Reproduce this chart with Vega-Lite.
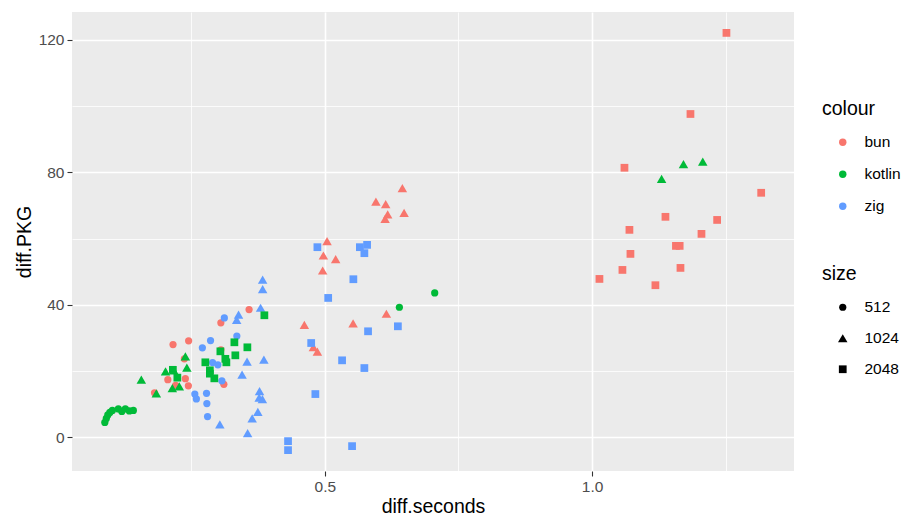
{
  "$schema": "https://vega.github.io/schema/vega-lite/v6.json",
  "width": 722,
  "height": 459,
  "autosize": {"type": "none"},
  "padding": {"left": 72, "top": 12, "right": 110, "bottom": 45},
  "background": "white",
  "data": {
    "values": [
      {"colour": "bun", "size": "512", "seconds": 0.2159, "PKG": 27.98},
      {"colour": "bun", "size": "512", "seconds": 0.2451, "PKG": 29.13},
      {"colour": "bun", "size": "512", "seconds": 0.3054, "PKG": 34.57},
      {"colour": "bun", "size": "512", "seconds": 0.3582, "PKG": 38.57},
      {"colour": "bun", "size": "512", "seconds": 0.2062, "PKG": 17.39},
      {"colour": "bun", "size": "512", "seconds": 0.2390, "PKG": 17.70},
      {"colour": "bun", "size": "512", "seconds": 0.2446, "PKG": 15.52},
      {"colour": "bun", "size": "512", "seconds": 0.1813, "PKG": 13.40},
      {"colour": "bun", "size": "512", "seconds": 0.3110, "PKG": 15.97},
      {"colour": "bun", "size": "512", "seconds": 0.3054, "PKG": 26.41},
      {"colour": "bun", "size": "512", "seconds": 0.2371, "PKG": 23.68},
      {"colour": "bun", "size": "512", "seconds": 0.2208, "PKG": 15.67},
      {"colour": "kotlin", "size": "512", "seconds": 0.0883, "PKG": 4.48},
      {"colour": "kotlin", "size": "512", "seconds": 0.0911, "PKG": 5.69},
      {"colour": "kotlin", "size": "512", "seconds": 0.0939, "PKG": 6.75},
      {"colour": "kotlin", "size": "512", "seconds": 0.0977, "PKG": 7.50},
      {"colour": "kotlin", "size": "512", "seconds": 0.1024, "PKG": 8.11},
      {"colour": "kotlin", "size": "512", "seconds": 0.1136, "PKG": 8.56},
      {"colour": "kotlin", "size": "512", "seconds": 0.1201, "PKG": 7.80},
      {"colour": "kotlin", "size": "512", "seconds": 0.1267, "PKG": 8.56},
      {"colour": "kotlin", "size": "512", "seconds": 0.1342, "PKG": 7.96},
      {"colour": "kotlin", "size": "512", "seconds": 0.1417, "PKG": 8.11},
      {"colour": "kotlin", "size": "512", "seconds": 0.6394, "PKG": 39.26},
      {"colour": "kotlin", "size": "512", "seconds": 0.7055, "PKG": 43.59},
      {"colour": "zig", "size": "512", "seconds": 0.3119, "PKG": 36.03},
      {"colour": "zig", "size": "512", "seconds": 0.3353, "PKG": 30.58},
      {"colour": "zig", "size": "512", "seconds": 0.2861, "PKG": 29.19},
      {"colour": "zig", "size": "512", "seconds": 0.2708, "PKG": 27.01},
      {"colour": "zig", "size": "512", "seconds": 0.2899, "PKG": 22.54},
      {"colour": "zig", "size": "512", "seconds": 0.2998, "PKG": 21.87},
      {"colour": "zig", "size": "512", "seconds": 0.3073, "PKG": 17.03},
      {"colour": "zig", "size": "512", "seconds": 0.2567, "PKG": 13.04},
      {"colour": "zig", "size": "512", "seconds": 0.2596, "PKG": 11.58},
      {"colour": "zig", "size": "512", "seconds": 0.2786, "PKG": 13.25},
      {"colour": "zig", "size": "512", "seconds": 0.2792, "PKG": 10.16},
      {"colour": "zig", "size": "512", "seconds": 0.2805, "PKG": 6.23},
      {"colour": "bun", "size": "1024", "seconds": 0.5955, "PKG": 71.17},
      {"colour": "bun", "size": "1024", "seconds": 0.6138, "PKG": 70.42},
      {"colour": "bun", "size": "1024", "seconds": 0.6450, "PKG": 75.26},
      {"colour": "bun", "size": "1024", "seconds": 0.6175, "PKG": 67.30},
      {"colour": "bun", "size": "1024", "seconds": 0.6127, "PKG": 65.97},
      {"colour": "bun", "size": "1024", "seconds": 0.6482, "PKG": 67.79},
      {"colour": "bun", "size": "1024", "seconds": 0.5041, "PKG": 59.23},
      {"colour": "bun", "size": "1024", "seconds": 0.4972, "PKG": 54.90},
      {"colour": "bun", "size": "1024", "seconds": 0.5202, "PKG": 53.78},
      {"colour": "bun", "size": "1024", "seconds": 0.4959, "PKG": 50.36},
      {"colour": "bun", "size": "1024", "seconds": 0.6151, "PKG": 37.30},
      {"colour": "bun", "size": "1024", "seconds": 0.4616, "PKG": 33.97},
      {"colour": "bun", "size": "1024", "seconds": 0.5528, "PKG": 34.42},
      {"colour": "bun", "size": "1024", "seconds": 0.4785, "PKG": 27.25},
      {"colour": "bun", "size": "1024", "seconds": 0.4860, "PKG": 25.86},
      {"colour": "kotlin", "size": "1024", "seconds": 0.1566, "PKG": 17.39},
      {"colour": "kotlin", "size": "1024", "seconds": 0.1847, "PKG": 13.25},
      {"colour": "kotlin", "size": "1024", "seconds": 0.2019, "PKG": 19.90},
      {"colour": "kotlin", "size": "1024", "seconds": 0.2174, "PKG": 20.21},
      {"colour": "kotlin", "size": "1024", "seconds": 0.2390, "PKG": 24.44},
      {"colour": "kotlin", "size": "1024", "seconds": 0.2418, "PKG": 21.02},
      {"colour": "kotlin", "size": "1024", "seconds": 0.2146, "PKG": 14.85},
      {"colour": "kotlin", "size": "1024", "seconds": 0.2277, "PKG": 15.37},
      {"colour": "kotlin", "size": "1024", "seconds": 1.1709, "PKG": 82.52},
      {"colour": "kotlin", "size": "1024", "seconds": 1.2070, "PKG": 83.27},
      {"colour": "kotlin", "size": "1024", "seconds": 1.1300, "PKG": 78.07},
      {"colour": "zig", "size": "1024", "seconds": 0.3836, "PKG": 47.64},
      {"colour": "zig", "size": "1024", "seconds": 0.3836, "PKG": 44.71},
      {"colour": "zig", "size": "1024", "seconds": 0.3797, "PKG": 39.11},
      {"colour": "zig", "size": "1024", "seconds": 0.3385, "PKG": 37.05},
      {"colour": "zig", "size": "1024", "seconds": 0.3350, "PKG": 35.48},
      {"colour": "zig", "size": "1024", "seconds": 0.3544, "PKG": 22.87},
      {"colour": "zig", "size": "1024", "seconds": 0.3859, "PKG": 23.44},
      {"colour": "zig", "size": "1024", "seconds": 0.3451, "PKG": 18.94},
      {"colour": "zig", "size": "1024", "seconds": 0.3778, "PKG": 13.91},
      {"colour": "zig", "size": "1024", "seconds": 0.3771, "PKG": 11.95},
      {"colour": "zig", "size": "1024", "seconds": 0.3831, "PKG": 11.52},
      {"colour": "zig", "size": "1024", "seconds": 0.3746, "PKG": 7.65},
      {"colour": "zig", "size": "1024", "seconds": 0.3640, "PKG": 5.69},
      {"colour": "zig", "size": "1024", "seconds": 0.3035, "PKG": 3.87},
      {"colour": "zig", "size": "1024", "seconds": 0.3555, "PKG": 1.24},
      {"colour": "bun", "size": "2048", "seconds": 1.2513, "PKG": 122.14},
      {"colour": "bun", "size": "2048", "seconds": 1.1840, "PKG": 97.64},
      {"colour": "bun", "size": "2048", "seconds": 1.0605, "PKG": 81.40},
      {"colour": "bun", "size": "2048", "seconds": 1.3163, "PKG": 73.84},
      {"colour": "bun", "size": "2048", "seconds": 1.1372, "PKG": 66.58},
      {"colour": "bun", "size": "2048", "seconds": 1.2339, "PKG": 65.64},
      {"colour": "bun", "size": "2048", "seconds": 1.0698, "PKG": 62.64},
      {"colour": "bun", "size": "2048", "seconds": 1.2046, "PKG": 61.43},
      {"colour": "bun", "size": "2048", "seconds": 1.1568, "PKG": 57.80},
      {"colour": "bun", "size": "2048", "seconds": 1.1638, "PKG": 57.80},
      {"colour": "bun", "size": "2048", "seconds": 1.0717, "PKG": 55.38},
      {"colour": "bun", "size": "2048", "seconds": 1.1653, "PKG": 51.15},
      {"colour": "bun", "size": "2048", "seconds": 1.0567, "PKG": 50.54},
      {"colour": "bun", "size": "2048", "seconds": 1.0137, "PKG": 47.82},
      {"colour": "bun", "size": "2048", "seconds": 1.1184, "PKG": 45.92},
      {"colour": "kotlin", "size": "2048", "seconds": 0.3868, "PKG": 36.84},
      {"colour": "kotlin", "size": "2048", "seconds": 0.3307, "PKG": 28.68},
      {"colour": "kotlin", "size": "2048", "seconds": 0.3550, "PKG": 27.16},
      {"colour": "kotlin", "size": "2048", "seconds": 0.3045, "PKG": 25.95},
      {"colour": "kotlin", "size": "2048", "seconds": 0.3325, "PKG": 24.74},
      {"colour": "kotlin", "size": "2048", "seconds": 0.3138, "PKG": 23.68},
      {"colour": "kotlin", "size": "2048", "seconds": 0.3157, "PKG": 22.63},
      {"colour": "kotlin", "size": "2048", "seconds": 0.2764, "PKG": 22.63},
      {"colour": "kotlin", "size": "2048", "seconds": 0.2848, "PKG": 20.21},
      {"colour": "kotlin", "size": "2048", "seconds": 0.2848, "PKG": 19.21},
      {"colour": "kotlin", "size": "2048", "seconds": 0.2932, "PKG": 17.79},
      {"colour": "kotlin", "size": "2048", "seconds": 0.2156, "PKG": 20.36},
      {"colour": "kotlin", "size": "2048", "seconds": 0.2240, "PKG": 18.00},
      {"colour": "zig", "size": "2048", "seconds": 0.4860, "PKG": 57.41},
      {"colour": "zig", "size": "2048", "seconds": 0.5655, "PKG": 57.41},
      {"colour": "zig", "size": "2048", "seconds": 0.5790, "PKG": 58.11},
      {"colour": "zig", "size": "2048", "seconds": 0.5739, "PKG": 55.60},
      {"colour": "zig", "size": "2048", "seconds": 0.5533, "PKG": 47.73},
      {"colour": "zig", "size": "2048", "seconds": 0.5062, "PKG": 42.08},
      {"colour": "zig", "size": "2048", "seconds": 0.6366, "PKG": 33.51},
      {"colour": "zig", "size": "2048", "seconds": 0.5808, "PKG": 32.00},
      {"colour": "zig", "size": "2048", "seconds": 0.4744, "PKG": 28.46},
      {"colour": "zig", "size": "2048", "seconds": 0.5322, "PKG": 23.23},
      {"colour": "zig", "size": "2048", "seconds": 0.5739, "PKG": 20.90},
      {"colour": "zig", "size": "2048", "seconds": 0.4822, "PKG": 13.04},
      {"colour": "zig", "size": "2048", "seconds": 0.4311, "PKG": -1.18},
      {"colour": "zig", "size": "2048", "seconds": 0.4311, "PKG": -3.90},
      {"colour": "zig", "size": "2048", "seconds": 0.5509, "PKG": -2.69}
    ]
  },
  "mark": {"type": "point", "filled": true, "opacity": 1, "strokeWidth": 0},
  "encoding": {
    "x": {
      "field": "seconds",
      "type": "quantitative",
      "scale": {"domain": [0.0269, 1.3777], "nice": false, "zero": false},
      "axis": {
        "title": "diff.seconds",
        "values": [0.25, 0.5, 0.75, 1, 1.25],
        "format": ".1f",
        "labelExpr": "datum.value % 0.5 === 0 ? datum.label : ''",
        "gridWidth": {"condition": {"test": "datum.value % 0.5 !== 0", "value": 0.8}, "value": 1.6},
        "tickOpacity": {"condition": {"test": "datum.value % 0.5 !== 0", "value": 0}, "value": 1}
      }
    },
    "y": {
      "field": "PKG",
      "type": "quantitative",
      "scale": {"domain": [-10.2, 128.45], "nice": false, "zero": false},
      "axis": {
        "title": "diff.PKG",
        "values": [0, 20, 40, 60, 80, 100, 120],
        "labelExpr": "datum.value % 40 === 0 ? datum.label : ''",
        "gridWidth": {"condition": {"test": "datum.value % 40 !== 0", "value": 0.8}, "value": 1.6},
        "tickOpacity": {"condition": {"test": "datum.value % 40 !== 0", "value": 0}, "value": 1}
      }
    },
    "color": {
      "field": "colour",
      "type": "nominal",
      "scale": {"domain": ["bun", "kotlin", "zig"], "range": ["#F8766D", "#00BA38", "#619CFF"]},
      "legend": {"title": "colour", "orient": "none", "legendX": 750, "legendY": 88, "symbolType": "circle", "symbolSize": 55}
    },
    "shape": {
      "field": "size",
      "type": "nominal",
      "scale": {"domain": ["512", "1024", "2048"], "range": ["circle", "triangle-up", "square"]},
      "legend": {"title": "size", "orient": "none", "legendX": 750, "legendY": 253, "symbolFillColor": "black", "symbolStrokeWidth": 0, "rowPadding": 14}
    },
    "size": {
      "field": "size",
      "type": "nominal",
      "scale": {"type": "ordinal", "domain": ["512", "1024", "2048"], "range": [52, 90, 60]},
      "legend": {"title": "size", "orient": "none", "legendX": 750, "legendY": 253, "symbolFillColor": "black", "symbolStrokeWidth": 0, "rowPadding": 14}
    }
  },
  "config": {
    "font": "Liberation Sans",
    "view": {"fill": "#EBEBEB", "stroke": null},
    "axis": {
      "domain": false,
      "gridColor": "white",
      "gridOpacity": 1,
      "tickColor": "#333333",
      "tickSize": 5,
      "tickWidth": 1.1,
      "labelColor": "#4D4D4D",
      "labelFontSize": 15.5,
      "labelPadding": 3,
      "titleFontSize": 19.5,
      "titleFontWeight": "normal",
      "titleColor": "black"
    },
    "axisX": {"titlePadding": 3},
    "axisY": {"titlePadding": 4},
    "legend": {
      "padding": 0,
      "titleFontSize": 19.5,
      "titleFontWeight": "normal",
      "titleColor": "black",
      "titlePadding": 15,
      "labelFontSize": 15.5,
      "labelColor": "black",
      "rowPadding": 15,
      "symbolOffset": 13,
      "labelOffset": 14,
      "symbolBaseFillColor": "black"
    }
  }
}
